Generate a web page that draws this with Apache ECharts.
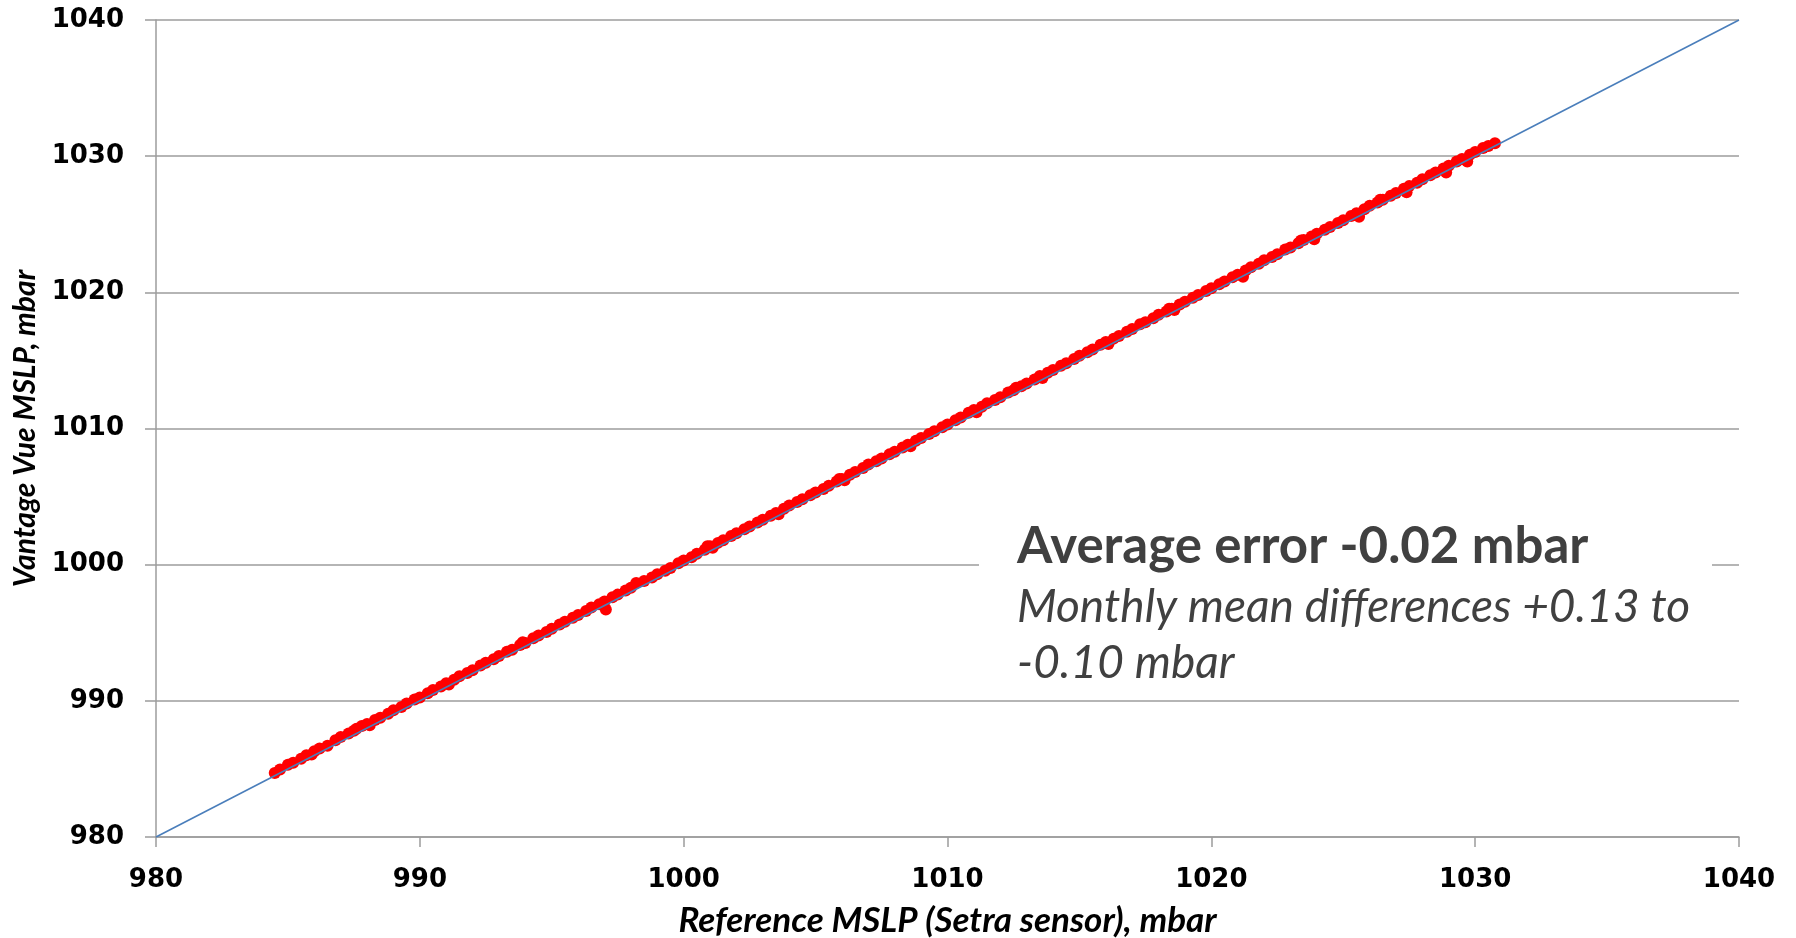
<!DOCTYPE html>
<html><head><meta charset="utf-8">
<script src="https://cdn.jsdelivr.net/npm/echarts@6/dist/echarts.min.js"></script>
<style>html,body{margin:0;padding:0;background:#fff}#c{width:1796px;height:938px}</style>
</head><body><div id="c"></div>
<script>
const xTicks = [980, 990, 1000, 1010, 1020, 1030, 1040];
const yTicks = [980, 990, 1000, 1010, 1020, 1030, 1040];
const xName = 'Reference MSLP (Setra sensor), mbar';
const yName = 'Vantage Vue MSLP, mbar';
const note1 = 'Average error -0.02 mbar';
const note2 = 'Monthly mean differences +0.13 to';
const note3 = '-0.10 mbar';
const refLineX = [980, 1040];
const refLineY = [980, 1040];
const obsPairs = [
[984.5,984.7],[984.7,984.95],[985.0,985.3],[985.2,985.45],[985.5,985.75],[985.7,986.0],[985.9,986.05],[986.0,986.3],[986.2,986.5],[986.5,986.7],[986.8,987.1],
[987.0,987.35],[987.3,987.6],[987.5,987.8],[987.6,987.95],[987.8,988.15],[988.0,988.3],[988.1,988.2],[988.3,988.6],[988.5,988.75],[988.8,989.05],
[989.0,989.3],[989.3,989.55],[989.5,989.8],[989.8,990.1],[990.0,990.25],[990.3,990.55],[990.5,990.8],[990.8,991.05],[991.0,991.3],[991.1,991.2],
[991.3,991.55],[991.5,991.8],[991.8,992.05],[992.0,992.25],[992.3,992.6],[992.5,992.8],[992.8,993.05],[993.0,993.3],[993.3,993.6],[993.5,993.75],
[993.8,994.1],[993.9,994.3],[994.0,994.25],[994.3,994.6],[994.5,994.8],[994.8,995.05],[995.0,995.3],[995.3,995.6],[995.5,995.8],[995.8,996.1],
[996.0,996.3],[996.3,996.6],[996.5,996.85],[996.8,997.1],[997.05,996.7],[997.0,997.3],[997.3,997.6],[997.5,997.8],[997.8,998.1],[998.0,998.3],
[998.2,998.65],[998.5,998.8],[998.8,999.05],[999.0,999.3],[999.3,999.55],[999.5,999.75],[999.8,1000.1],[1000.0,1000.3],[1000.3,1000.55],[1000.5,1000.8],
[1000.8,1001.1],[1000.9,1001.35],[1001.0,1001.35],[1001.1,1001.25],[1001.3,1001.6],[1001.5,1001.8],[1001.8,1002.1],[1002.0,1002.3],[1002.3,1002.6],[1002.5,1002.8],
[1002.8,1003.1],[1003.0,1003.3],[1003.3,1003.6],[1003.5,1003.8],[1003.6,1003.7],[1003.8,1004.1],[1004.0,1004.35],[1004.3,1004.6],[1004.5,1004.8],[1004.8,1005.1],
[1005.0,1005.3],[1005.3,1005.55],[1005.5,1005.8],[1005.8,1006.1],[1005.9,1006.3],[1006.0,1006.3],[1006.1,1006.2],[1006.3,1006.6],[1006.5,1006.8],[1006.8,1007.1],
[1007.0,1007.35],[1007.3,1007.6],[1007.5,1007.8],[1007.8,1008.1],[1008.0,1008.3],[1008.3,1008.6],[1008.5,1008.8],[1008.6,1008.7],[1008.8,1009.1],[1009.0,1009.3],
[1009.3,1009.6],[1009.5,1009.8],[1009.8,1010.1],[1010.0,1010.3],[1010.3,1010.6],[1010.5,1010.8],[1010.8,1011.15],[1011.0,1011.35],[1011.1,1011.2],[1011.3,1011.6],
[1011.5,1011.85],[1011.8,1012.1],[1012.0,1012.3],[1012.3,1012.65],[1012.5,1012.8],[1012.6,1013.0],[1012.8,1013.1],[1013.0,1013.3],[1013.3,1013.6],[1013.5,1013.85],
[1013.6,1013.7],[1013.8,1014.1],[1014.0,1014.3],[1014.3,1014.6],[1014.5,1014.8],[1014.8,1015.1],[1015.0,1015.35],[1015.3,1015.6],[1015.5,1015.8],[1015.8,1016.15],
[1016.0,1016.35],[1016.1,1016.2],[1016.3,1016.6],[1016.5,1016.8],[1016.8,1017.1],[1017.0,1017.3],[1017.3,1017.65],[1017.5,1017.8],[1017.8,1018.1],[1018.0,1018.35],
[1018.3,1018.6],[1018.4,1018.8],[1018.5,1018.8],[1018.6,1018.7],[1018.8,1019.1],[1019.0,1019.3],[1019.3,1019.6],[1019.5,1019.8],[1019.8,1020.1],[1020.0,1020.3],
[1020.3,1020.6],[1020.5,1020.8],[1020.8,1021.1],[1021.0,1021.3],[1021.2,1021.15],[1021.3,1021.6],[1021.5,1021.85],[1021.8,1022.1],[1022.0,1022.35],[1022.3,1022.6],
[1022.5,1022.8],[1022.8,1023.15],[1023.0,1023.3],[1023.3,1023.6],[1023.4,1023.8],[1023.5,1023.85],[1023.8,1024.1],[1023.9,1023.9],[1024.0,1024.3],[1024.3,1024.6],
[1024.5,1024.8],[1024.8,1025.1],[1025.0,1025.3],[1025.3,1025.6],[1025.5,1025.8],[1025.6,1025.55],[1025.8,1026.1],[1026.0,1026.35],[1026.3,1026.6],[1026.4,1026.8],
[1026.5,1026.8],[1026.8,1027.1],[1027.0,1027.3],[1027.3,1027.6],[1027.4,1027.35],[1027.5,1027.8],[1027.8,1028.05],[1028.0,1028.3],[1028.3,1028.6],[1028.5,1028.8],
[1028.8,1029.1],[1028.9,1028.8],[1029.0,1029.3],[1029.3,1029.6],[1029.5,1029.8],[1029.7,1029.6],[1029.8,1030.1],[1030.0,1030.3],[1030.3,1030.6],[1030.5,1030.75],
[1030.75,1030.95]
];

const chart = echarts.init(document.getElementById('c'));
const gridColor = '#9c9c9c';
const tickFont = {fontFamily: 'DejaVu Sans', fontWeight: 'bold', fontSize: 26, color: '#000', formatter: v => String(v)};
chart.setOption({
  animation: false,
  grid: {left: 156, top: 20, right: 57, bottom: 101, containLabel: false, outerBoundsMode: 'none'},
  xAxis: {
    type: 'value', min: xTicks[0], max: xTicks[xTicks.length - 1], interval: 10,
    name: xName, nameLocation: 'middle', nameGap: 66,
    nameTextStyle: {fontFamily: 'Lato', fontStyle: 'italic', fontWeight: 'bold', fontSize: 35, color: '#000'},
    axisLine: {show: true, lineStyle: {color: gridColor, width: 1.5}},
    axisTick: {show: true, inside: false, length: 10, lineStyle: {color: gridColor, width: 1.5}},
    axisLabel: Object.assign({margin: 30}, tickFont),
    splitLine: {show: false}
  },
  yAxis: {
    type: 'value', min: yTicks[0], max: yTicks[yTicks.length - 1], interval: 10,
    name: yName, nameLocation: 'middle', nameGap: 110, nameRotate: 90,
    nameTextStyle: {fontFamily: 'Lato', fontStyle: 'italic', fontWeight: 'bold', fontSize: 30, color: '#000'},
    axisLine: {show: true, lineStyle: {color: gridColor, width: 1.5}},
    axisTick: {show: true, inside: false, length: 11, lineStyle: {color: gridColor, width: 1.5}},
    axisLabel: Object.assign({margin: 32}, tickFont),
    splitLine: {show: true, lineStyle: {color: gridColor, width: 1.5}}
  },
  series: [
    {
      type: 'scatter', data: obsPairs, symbol: 'circle', symbolSize: 12,
      itemStyle: {color: '#ff0000', opacity: 1}, z: 2, silent: true
    },
    {
      type: 'line', data: refLineX.map((v, i) => [v, refLineY[i]]), symbol: 'none',
      lineStyle: {color: '#4a7ebb', width: 1.5}, z: 3, silent: true
    }
  ],
  graphic: [
    {type: 'rect', left: 979, top: 512, shape: {width: 733, height: 186}, style: {fill: '#fff'}, z: 100},
    {type: 'text', left: 1017, top: 521, style: {text: note1, fontFamily: 'Lato', fontWeight: 'bold', fontSize: 51, fill: '#404040'}, z: 101},
    {type: 'text', left: 1017, top: 584, style: {text: note2, fontFamily: 'Lato', fontStyle: 'italic', fontSize: 46, fill: '#404040'}, z: 101},
    {type: 'text', left: 1017, top: 640, style: {text: note3, fontFamily: 'Lato', fontStyle: 'italic', fontSize: 46, fill: '#404040'}, z: 101}
  ]
});
</script></body></html>
